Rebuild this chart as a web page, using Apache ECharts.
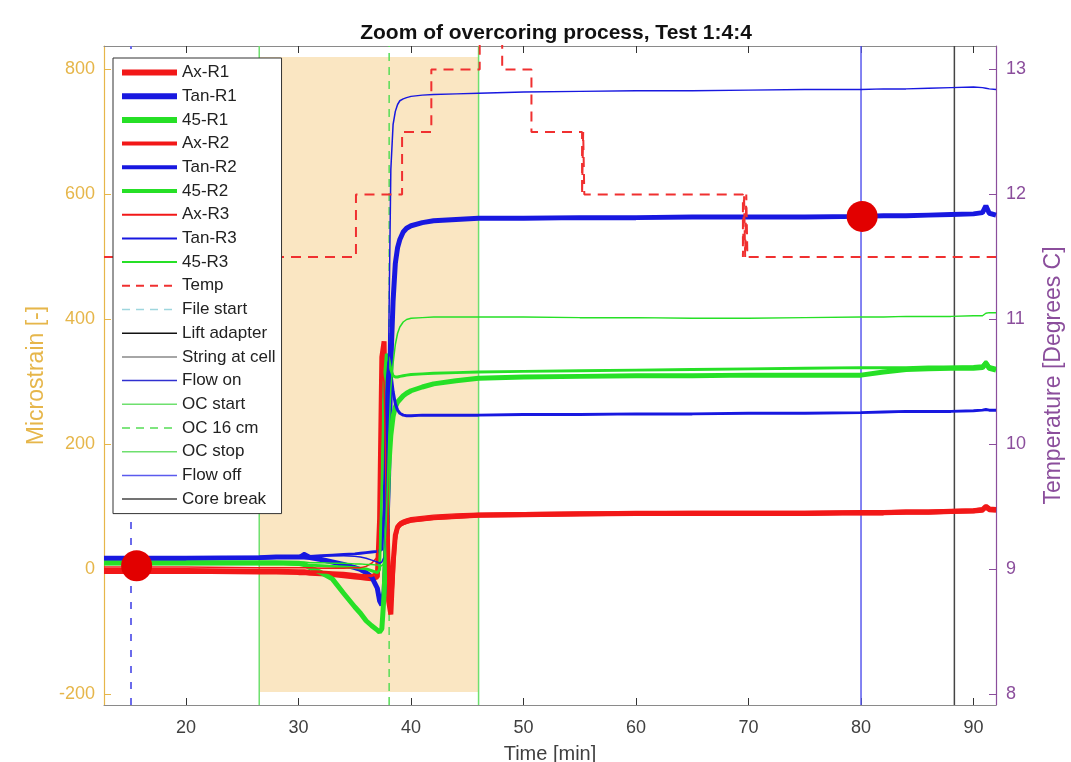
<!DOCTYPE html>
<html><head><meta charset="utf-8">
<script src="https://cdn.jsdelivr.net/npm/echarts@6/dist/echarts.min.js"></script>
<style>html,body{margin:0;padding:0;background:#fff}#c{width:1071px;height:762px}</style>
</head><body><div id="c"></div><script>
// ---- data ----
const T = [12.7, 15, 20, 26.5, 28, 30, 30.5, 31, 32, 33, 34, 35, 35.5, 36, 36.5, 37, 37.2, 37.4, 37.6, 37.8, 38.0, 38.2, 38.4, 38.6, 38.8, 39.0, 39.3, 39.6, 40, 41, 42, 44, 46, 50, 55, 60, 65, 70, 75, 80, 82, 84, 86, 88, 90, 90.8, 91.1, 91.4, 92];
const axR1 = [-3,-3,-3,-4,-4,-5,-5,-6,-7,-8,-10,-12,-13,-14,-15,-12, 80,340,365,150,-50,-72,10,55,68,72,75,77, 79,81,83,85,87,88,89,90,90,90,90,91,91,92,92,93,94,96,101,97,96];
const tanR1 = [18,18,18,19,20,20,20,19,16,12,8,3,0,-5,-12,-30, -50,-57,-35,40,150,330,430,490,515,528,540,546, 550,555,558,560,562,562,563,563,564,564,564,565,566,566,567,568,569,571,582,570,567];
const g45R1 = [11,11,11,11,11,10,8,3,-5,-15,-38,-60,-70,-82,-90,-97, -100,-95,-40,60,160,215,245,260,268,272,278,282, 286,292,297,302,306,308,309,310,310,311,311,311,316,320,321,322,322,323,330,322,319];
const axR2 = [0,0,0,-1,-1,-2,-2,-3,-4,-5,-6,-8,-9,-10,-10,-5, 40,250,345,200,-20,-65,-20,45,65,70,73,75, 77,79,81,83,85,86,87,88,88,88,88,89,89,90,90,91,92,93,98,94,93];
const tanR2 = [17,17,17,18,19,20,26,21,22,23,24,25,26,27,28,29, 30,32,100,280,340,315,285,265,255,250,247,246, 246,247,247,247,247,248,248,249,249,250,250,251,252,253,253,253,254,255,256,255,255];
const g45R2 = [9,9,9,9,9,8,8,7,6,5,4,3,2,1,-2,-5, 0,150,300,345,338,320,310,308,308,309,310,311, 312,313,314,315,316,317,318,319,320,321,322,323,323,323,324,324,325,326,333,325,322];
const axR3 = [4,4,4,3,3,3,3,3,2,2,2,3,3,5,10,20, 120,320,300,100,-40,-55,30,62,72,76,79,81, 83,85,87,89,90,91,92,92,93,93,93,94,94,95,95,96,97,98,103,99,98];
const tanR3 = [20,20,20,21,21,22,22,22,22,22,22,21,20,18,15,12, 10,12,20,80,350,640,712,733,744,750,753,755, 757,759,760,761,762,764,765,766,766,767,768,768,769,769,770,771,772,771,770,769,768];
const g45R3 = [12,12,12,12,12,12,12,11,11,10,10,9,9,8,8,7, 6,6,10,80,200,290,330,360,378,388,396,400, 402,403,404,404,404,404,403,403,402,402,403,404,404,405,405,405,406,406,410,411,411];

const tempT = [12.7, 35.1, 39.2, 41.8, 46.1, 48.1, 50.7, 55.2, 55.3, 55.4, 69.5, 69.6, 69.7, 69.8, 69.9, 92];
const tempV = [11.5, 12.0, 12.5, 13.0, 13.5, 13.0, 12.5, 12.0, 12.5, 12.0, 11.5, 12.0, 11.5, 12.0, 11.5, 11.5];

// event times [min]
const eventNames = ['File start','Lift adapter','String at cell','Flow on','OC start','OC 16 cm','OC stop','Flow off','Core break'];
const eventTimes = [[15.1], [], [], [], [26.5], [38.05], [46.0], [80.0], [88.3]];

const dotT = [15.6, 80.1];
const dotV = [6, 565];

const shadeX = [26.5, 46.0];
const shadeY = [-196, 820];

const xRange = [12.7, 92];
const yRange = [-216.8, 837.6];
const tRange = [7.916, 13.188];
const xTicks = [20, 30, 40, 50, 60, 70, 80, 90];
const yTicks = [-200, 0, 200, 400, 600, 800];
const tTicks = [8, 9, 10, 11, 12, 13];

// ---- styles ----
const FONT = 'Liberation Sans, Arial, Helvetica, sans-serif';
const RED = '#F21818', BLUE = '#1818E0', GREEN = '#26E026';
const GOLD = '#E6B64A', PURPLE = '#8B4E9C';

const strain = [
  ['Ax-R1', axR1, RED, 5, 6], ['Tan-R1', tanR1, BLUE, 5, 6], ['45-R1', g45R1, GREEN, 5, 6],
  ['Ax-R2', axR2, RED, 3, 4], ['Tan-R2', tanR2, BLUE, 3, 4], ['45-R2', g45R2, GREEN, 3, 4],
  ['Ax-R3', axR3, RED, 1.5, 2], ['Tan-R3', tanR3, BLUE, 1.5, 2], ['45-R3', g45R3, GREEN, 1.5, 2]
];
const eventStyle = {
  'File start': {color: '#6B6BEB', width: 2, type: [7, 9]},
  'Lift adapter': {color: '#111', width: 1.5, type: 'solid'},
  'String at cell': {color: '#888', width: 1.5, type: 'solid'},
  'Flow on': {color: '#3030D0', width: 1.5, type: 'solid'},
  'OC start': {color: '#6EE06E', width: 1.5, type: 'solid'},
  'OC 16 cm': {color: '#55DD55', width: 1.5, type: [8, 6]},
  'OC stop': {color: '#6EE06E', width: 1.5, type: 'solid'},
  'Flow off': {color: '#5A5AEE', width: 1.5, type: 'solid'},
  'Core break': {color: '#444', width: 1.5, type: 'solid'}
};

const series = [];
series.push({
  type: 'line', name: '_shade', data: [], silent: true, z: 1,
  markArea: {silent: true, z: 1, itemStyle: {color: '#FAE6C2'},
    data: [[{xAxis: shadeX[0], yAxis: shadeY[0]}, {xAxis: shadeX[1], yAxis: shadeY[1]}]]}
});
strain.forEach(([name, vals, color, w]) => {
  series.push({
    type: 'line', name, data: T.map((t, i) => [t, vals[i]]), symbol: 'none',
    lineStyle: {color, width: w}, itemStyle: {color}, z: 3, silent: true
  });
});
series.push({
  type: 'line', name: 'Temp', yAxisIndex: 1, step: 'end', symbol: 'none',
  data: tempT.map((t, i) => [t, tempV[i]]),
  lineStyle: {color: '#F03030', width: 2, type: [10, 7]}, itemStyle: {color: '#F03030'}, z: 3, silent: true
});
eventNames.forEach((name, k) => {
  const st = eventStyle[name];
  const data = [];
  eventTimes[k].forEach(t => { data.push([t, yRange[0]], [t, yRange[1]]); });
  series.push({type: 'line', name, data, symbol: 'none', lineStyle: st, itemStyle: {color: st.color}, z: 2, silent: true});
});
series.push({
  type: 'scatter', name: '_dots', data: dotT.map((t, i) => [t, dotV[i]]),
  symbolSize: 31, itemStyle: {color: '#E20000', opacity: 1}, z: 5, silent: true
});

const legendData = strain.map(s => ({name: s[0], lineStyle: {color: s[2], width: s[4], type: 'solid'}}))
  .concat([{name: 'Temp', lineStyle: {color: '#F03030', width: 2, type: [8, 6]}}])
  .concat(eventNames.map(n => {
    if (n === 'File start') return {name: n, lineStyle: {color: '#9ED6DE', width: 1.5, type: [8, 6]}};
    const st = eventStyle[n];
    return {name: n, lineStyle: {color: st.color, width: 1.5, type: st.type}};
  }));

const chart = echarts.init(document.getElementById('c'), null, {renderer: 'canvas'});
chart.setOption({
  animation: false,
  backgroundColor: '#fff',
  title: {text: 'Zoom of overcoring process, Test 1:4:4', left: 551, top: 18, textAlign: 'center',
    textStyle: {fontFamily: FONT, fontSize: 21, fontWeight: 'bold', color: '#111'}},
  grid: {left: 104, right: 75, top: 46, bottom: 57, containLabel: false, outerBoundsMode: 'none'},
  legend: {
    data: legendData, orient: 'vertical', left: 113, top: 58, padding: [6, 6, 6, 6],
    itemGap: 6.7, itemWidth: 55, itemHeight: 14, selectedMode: false,
    itemStyle: {opacity: 0},
    backgroundColor: '#fff', borderColor: '#333', borderWidth: 1, borderRadius: 0,
    textStyle: {fontFamily: FONT, fontSize: 17, color: '#222'}
  },
  xAxis: [{
    type: 'value', min: xRange[0], max: xRange[1], position: 'bottom',
    axisLine: {onZero: false, lineStyle: {color: '#8a8a8a', width: 1}},
    axisTick: {inside: true, length: 7, customValues: xTicks, lineStyle: {color: '#333'}},
    axisLabel: {customValues: xTicks, color: '#404040', fontSize: 18, fontFamily: FONT, margin: 14},
    splitLine: {show: false},
    name: 'Time [min]', nameLocation: 'middle', nameGap: 39,
    nameTextStyle: {color: '#404040', fontSize: 20, fontFamily: FONT}
  }, {
    type: 'value', min: xRange[0], max: xRange[1], position: 'top',
    axisLine: {onZero: false, lineStyle: {color: '#8a8a8a', width: 1}},
    axisTick: {inside: true, length: 7, customValues: xTicks, lineStyle: {color: '#333'}},
    axisLabel: {show: false}, splitLine: {show: false}
  }],
  yAxis: [{
    type: 'value', min: yRange[0], max: yRange[1], position: 'left',
    axisLine: {show: true, onZero: false, lineStyle: {color: GOLD, width: 1.2}},
    axisTick: {show: true, inside: true, length: 7, customValues: yTicks, lineStyle: {color: GOLD}},
    axisLabel: {customValues: yTicks, color: GOLD, fontSize: 18, fontFamily: FONT, margin: 9},
    splitLine: {show: false},
    name: 'Microstrain [-]', nameLocation: 'middle', nameGap: 55, nameRotate: 90,
    nameTextStyle: {color: GOLD, fontSize: 23, fontFamily: FONT}
  }, {
    type: 'value', min: tRange[0], max: tRange[1], position: 'right',
    axisLine: {show: true, onZero: false, lineStyle: {color: PURPLE, width: 1.2}},
    axisTick: {show: true, inside: true, length: 7, customValues: tTicks, lineStyle: {color: PURPLE}},
    axisLabel: {customValues: tTicks, color: PURPLE, fontSize: 18, fontFamily: FONT, margin: 10},
    splitLine: {show: false},
    name: 'Temperature [Degrees C]', nameLocation: 'middle', nameGap: 46, nameRotate: 90,
    nameTextStyle: {color: PURPLE, fontSize: 23, fontFamily: FONT}
  }],
  series
});
</script></body></html>
